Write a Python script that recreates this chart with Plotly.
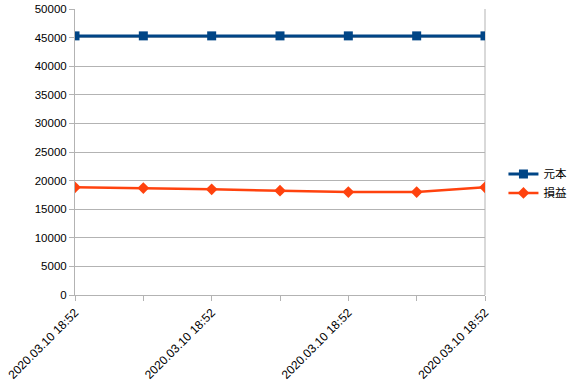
import plotly.graph_objects as go

x_idx = [0, 1, 2, 3, 4, 5, 6]
x_labels = ["2020.03.10 18:52", "", "2020.03.10 18:52", "", "2020.03.10 18:52", "", "2020.03.10 18:52"]
principal = [45300, 45300, 45300, 45300, 45300, 45300, 45300]
profit = [18830, 18700, 18480, 18230, 18000, 18000, 18830]
series_names = ["元本", "損益"]

fig = go.Figure()
fig.add_trace(go.Scatter(
    x=x_idx, y=principal, name=series_names[0], mode="lines+markers",
    line=dict(color="#004586", width=3),
    marker=dict(symbol="square", size=9, color="#004586"),
))
fig.add_trace(go.Scatter(
    x=x_idx, y=profit, name=series_names[1], mode="lines+markers",
    line=dict(color="#ff420e", width=2.5),
    marker=dict(symbol="diamond", size=9, color="#ff420e"),
))

fig.update_layout(
    width=577, height=387,
    margin=dict(l=75, r=92, t=9, b=92, autoexpand=False),
    paper_bgcolor="white", plot_bgcolor="white",
    font=dict(family="Liberation Sans, Arial", size=11, color="#000000"),
    showlegend=True,
    legend=dict(x=1.045, y=0.39, xanchor="left", yanchor="middle",
                font=dict(family="Noto Sans CJK JP", size=11.5, color="#000"),
                itemwidth=30, tracegroupgap=0, bgcolor="rgba(0,0,0,0)"),
    xaxis=dict(
        range=[0, 6], tickmode="array", tickvals=x_idx, ticktext=x_labels,
        tickangle=-45, ticks="outside", ticklen=5, tickcolor="#b3b3b3",
        tickfont=dict(size=12), automargin=False,
        showline=True, linecolor="#b3b3b3", linewidth=1, mirror=False,
        showgrid=False, zeroline=False,
    ),
    yaxis=dict(
        range=[0, 50000], dtick=5000, tickformat="d",
        ticks="outside", ticklen=5, tickcolor="#b3b3b3",
        tickfont=dict(size=11.5), automargin=False,
        showline=True, linecolor="#b3b3b3", linewidth=1,
        showgrid=True, gridcolor="#b3b3b3", gridwidth=1, zeroline=False,
    ),
)
# right border line of plot area
fig.add_shape(type="line", xref="paper", yref="paper", x0=1, x1=1, y0=0, y1=1,
              line=dict(color="#b3b3b3", width=1), layer="below")

fig.write_html("out.html")
